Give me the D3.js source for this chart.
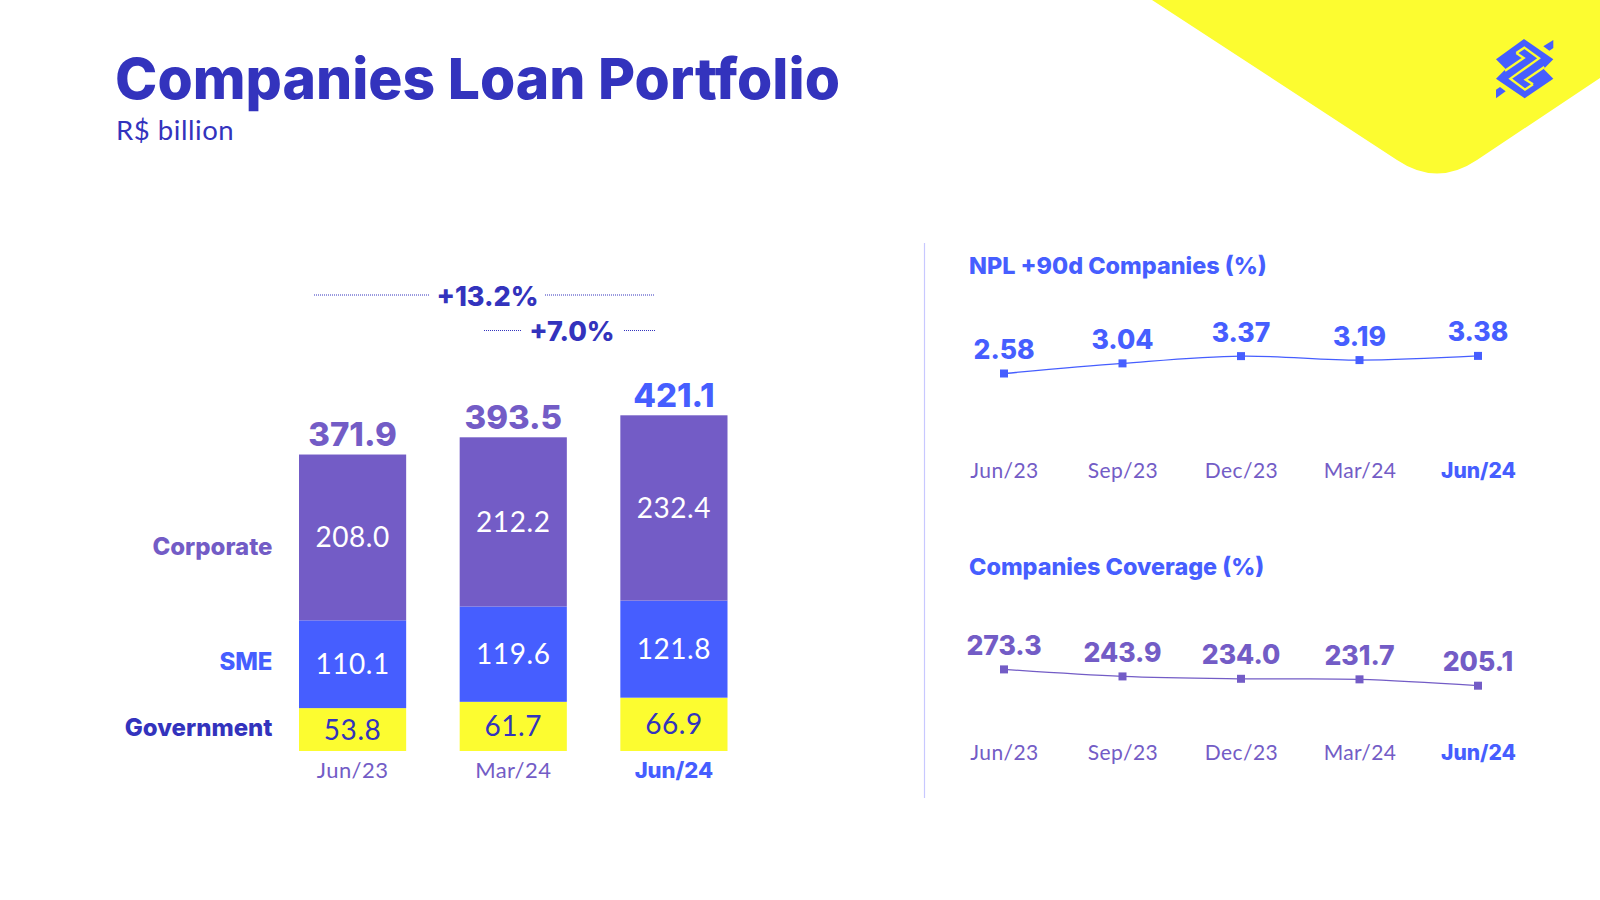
<!DOCTYPE html>
<html>
<head>
<meta charset="utf-8">
<script src="https://cdn.jsdelivr.net/npm/d3@7"></script>
<style>
  html, body { margin: 0; padding: 0; background: #fff; }
  svg { display: block; }
  text { font-family: Lato, "Open Sans", sans-serif; }
  text.heavy { font-family: Inter, "Noto Sans", sans-serif; font-weight: 800; }
  text.plain { font-family: Lato, "Open Sans", sans-serif; font-weight: 400; letter-spacing: 0.02em; }
</style>
</head>
<body>
<script>
// data
var barMonths = ["Jun/23", "Mar/24", "Jun/24"];
var government = [53.8, 61.7, 66.9];
var sme = [110.1, 119.6, 121.8];
var corporate = [208.0, 212.2, 232.4];
var barTotals = [371.9, 393.5, 421.1];

var lineMonths = ["Jun/23", "Sep/23", "Dec/23", "Mar/24", "Jun/24"];
var nplValues = [2.58, 3.04, 3.37, 3.19, 3.38];
var nplLabels = ["2.58", "3.04", "3.37", "3.19", "3.38"];
var coverageValues = [273.3, 243.9, 234.0, 231.7, 205.1];
var coverageLabels = ["273.3", "243.9", "234.0", "231.7", "205.1"];

var segmentNames = ["Government", "SME", "Corporate"];

var DARK = "#3333BD", BLUE = "#465EFF", PURPLE = "#735CC6", YELLOW = "#FCFC30";

var svg = d3.select("body").append("svg")
    .attr("width", 1600)
    .attr("height", 900);

// yellow corner
svg.append("path")
    .attr("d", "M1152,0 L1397,160 Q1437,187 1477,160 L1600,78 L1600,0 Z")
    .attr("fill", YELLOW);

// bank logo: blue silhouette with yellow strips cut through it
var logo = svg.append("g").attr("transform", "translate(1485,30) scale(0.3333)");
logo.append("path")
    .attr("d", "M117,27 L205,88 L176,117 L205,146 L119,205 L33,146 L62,117 L33,88 Z")
    .attr("fill", BLUE);
logo.append("path").attr("d", "M205,30 L205,54 L193,62 L175,49 Z").attr("fill", BLUE);
logo.append("path").attr("d", "M33,205 L33,179 L45,171 L62,184 Z").attr("fill", BLUE);
logo.append("path")
    .attr("d", "M94,69 L118,53 L162,85 L76,146 L120,179 L144,163")
    .attr("fill", "none").attr("stroke", YELLOW).attr("stroke-width", 7);
logo.append("path")
    .attr("d", "M94,69 L116,84 L60,122")
    .attr("fill", "none").attr("stroke", YELLOW).attr("stroke-width", 7);
logo.append("path")
    .attr("d", "M144,163 L122,149 L178,111")
    .attr("fill", "none").attr("stroke", YELLOW).attr("stroke-width", 7);

// heading
svg.append("text").attr("class", "heavy").attr("x", 115).attr("y", 98.5)
    .attr("font-size", 57).attr("fill", DARK)
    .text("Companies Loan Portfolio");
svg.append("text").attr("class", "plain").attr("x", 116).attr("y", 139.5)
    .attr("font-size", 27.5).attr("fill", DARK)
    .text("R$ billion");

// stacked bars
var rows = barMonths.map(function(m, i){
    return { month: m, Government: government[i], SME: sme[i], Corporate: corporate[i], total: barTotals[i] };
});
var stack = d3.stack().keys(segmentNames)(rows);

var xBar = d3.scaleBand().domain(barMonths).range([299, 727.5]).paddingInner(0.333);
var yBar = d3.scaleLinear().domain([0, 421.1]).range([751, 415.3]);

var fillOf = { Government: YELLOW, SME: BLUE, Corporate: PURPLE };
var labelFill = { Government: DARK, SME: "#fff", Corporate: "#fff" };

stack.forEach(function(layer){
    var g = svg.append("g");
    g.selectAll("rect")
        .data(layer)
        .enter()
        .append("rect")
        .attr("x", function(d){ return xBar(d.data.month); })
        .attr("y", function(d){ return yBar(d[1]); })
        .attr("width", xBar.bandwidth())
        .attr("height", function(d){ return yBar(d[0]) - yBar(d[1]); })
        .attr("fill", fillOf[layer.key]);
    g.selectAll("text")
        .data(layer)
        .enter()
        .append("text")
        .attr("class", "plain")
        .attr("x", function(d){ return xBar(d.data.month) + xBar.bandwidth() / 2; })
        .attr("y", function(d){ return (yBar(d[0]) + yBar(d[1])) / 2 + 10; })
        .attr("text-anchor", "middle")
        .attr("font-size", 28)
        .attr("fill", labelFill[layer.key])
        .text(function(d){ return (d[1] - d[0]).toFixed(1); });
});

// totals above the bars
svg.selectAll(".total")
    .data(rows)
    .enter()
    .append("text")
    .attr("class", "total heavy")
    .attr("x", function(d){ return xBar(d.month) + xBar.bandwidth() / 2; })
    .attr("y", function(d){ return yBar(d.total) - 8.5; })
    .attr("text-anchor", "middle")
    .attr("font-size", 33)
    .attr("fill", function(d, i){ return i == 2 ? BLUE : PURPLE; })
    .text(function(d){ return d.total.toFixed(1); });

// row names on the left
var rowNames = [
    { name: "Corporate", y: 555, fill: PURPLE },
    { name: "SME", y: 670, fill: BLUE },
    { name: "Government", y: 736, fill: DARK }
];
svg.selectAll(".rowName")
    .data(rowNames)
    .enter()
    .append("text")
    .attr("class", "rowName heavy")
    .attr("x", 272.5)
    .attr("y", function(d){ return d.y; })
    .attr("text-anchor", "end")
    .attr("font-size", 24)
    .attr("fill", function(d){ return d.fill; })
    .text(function(d){ return d.name; });

// month axis, last month is highlighted
function monthAxis(scale, y, size){
    var g = svg.append("g")
        .attr("transform", "translate(0," + y + ")")
        .call(d3.axisBottom(scale).tickSize(0).tickPadding(0));
    g.select(".domain").remove();
    var n = scale.domain().length;
    g.selectAll("text")
        .attr("y", 0).attr("dy", 0)
        .attr("class", function(d, i){ return i == n - 1 ? "heavy" : "plain"; })
        .attr("font-size", size)
        .attr("fill", function(d, i){ return i == n - 1 ? BLUE : PURPLE; });
}
monthAxis(xBar, 777.5, 22);

// growth brackets
var growth = [
    { label: "+13.2%", cx: 487.5, y: 306, line: 295, x1: 314, x2: 429, x3: 545, x4: 654 },
    { label: "+7.0%", cx: 572, y: 341, line: 330.5, x1: 484, x2: 521, x3: 624, x4: 656 }
];
growth.forEach(function(d){
    svg.append("text").attr("class", "heavy").attr("x", d.cx).attr("y", d.y)
        .attr("text-anchor", "middle")
        .attr("font-size", 27).attr("fill", DARK)
        .text(d.label);
    [[d.x1, d.x2], [d.x3, d.x4]].forEach(function(p){
        svg.append("line")
            .attr("x1", p[0]).attr("x2", p[1])
            .attr("y1", d.line).attr("y2", d.line)
            .attr("stroke", DARK).attr("stroke-width", 1)
            .attr("stroke-dasharray", "1 1");
    });
});

// divider
svg.append("line")
    .attr("x1", 924.5).attr("x2", 924.5)
    .attr("y1", 243).attr("y2", 798)
    .attr("stroke", "#C8C8FF").attr("stroke-width", 1.2);

// small line charts
var xLine = d3.scalePoint().domain(lineMonths).range([1004, 1478]);

function drawLine(title, titleY, values, labels, yScale, color, axisY){
    svg.append("text").attr("class", "heavy").attr("x", 969).attr("y", titleY)
        .attr("font-size", 23.4).attr("fill", BLUE)
        .text(title);

    var line = d3.line()
        .x(function(d, i){ return xLine(lineMonths[i]); })
        .y(function(d){ return yScale(d); })
        .curve(d3.curveCatmullRom);

    svg.append("path")
        .attr("d", line(values))
        .attr("fill", "none")
        .attr("stroke", color)
        .attr("stroke-width", 1.3);

    svg.selectAll(null)
        .data(values)
        .enter()
        .append("rect")
        .attr("x", function(d, i){ return xLine(lineMonths[i]) - 4; })
        .attr("y", function(d){ return yScale(d) - 4; })
        .attr("width", 8)
        .attr("height", 8)
        .attr("fill", color);

    svg.selectAll(null)
        .data(values)
        .enter()
        .append("text")
        .attr("class", "heavy")
        .attr("x", function(d, i){ return xLine(lineMonths[i]); })
        .attr("y", function(d){ return yScale(d) - 14.5; })
        .attr("text-anchor", "middle")
        .attr("font-size", 26.5)
        .attr("fill", color)
        .text(function(d, i){ return labels[i]; });

    monthAxis(xLine, axisY, 21);
}

var yNpl = d3.scaleLinear().domain([2.58, 3.38]).range([373.5, 355.9]);
var yCoverage = d3.scaleLinear().domain([205.1, 273.3]).range([685.7, 669.4]);

drawLine("NPL +90d Companies (%)", 274, nplValues, nplLabels, yNpl, BLUE, 477.5);
drawLine("Companies Coverage (%)", 575, coverageValues, coverageLabels, yCoverage, PURPLE, 760);
</script>
</body>
</html>
